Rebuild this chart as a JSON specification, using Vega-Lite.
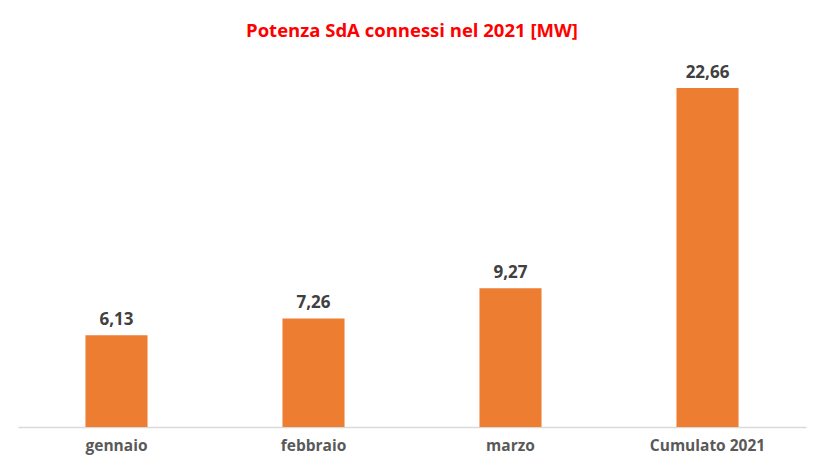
{
  "$schema": "https://vega.github.io/schema/vega-lite/v6.json",
  "width": 788,
  "height": 374,
  "autosize": {"type": "none"},
  "padding": {"left": 18, "top": 53, "right": 10, "bottom": 31},
  "background": "white",
  "config": {"view": {"stroke": null}, "font": "Open Sans"},
  "title": {
    "text": "Potenza SdA connessi nel 2021 [MW]",
    "color": "#FF0000",
    "fontSize": 18.5,
    "fontWeight": "bold",
    "font": "Open Sans",
    "anchor": "middle",
    "offset": 13
  },
  "data": {
    "values": [
      {"mese": "gennaio", "mw": 6.13, "label": "6,13"},
      {"mese": "febbraio", "mw": 7.26, "label": "7,26"},
      {"mese": "marzo", "mw": 9.27, "label": "9,27"},
      {"mese": "Cumulato 2021", "mw": 22.66, "label": "22,66"}
    ]
  },
  "encoding": {
    "x": {
      "field": "mese",
      "type": "nominal",
      "sort": null,
      "scale": {"paddingInner": 0.685, "paddingOuter": 0.3425},
      "axis": {
        "title": null,
        "labelAngle": 0,
        "ticks": false,
        "domainColor": "#D9D9D9",
        "domainWidth": 1.5,
        "labelColor": "#595959",
        "labelFontSize": 15.5,
        "labelFontWeight": "bold",
        "labelFont": "Open Sans",
        "labelPadding": 11
      }
    },
    "y": {
      "field": "mw",
      "type": "quantitative",
      "scale": {"domain": [0, 25]},
      "axis": null
    }
  },
  "layer": [
    {"mark": {"type": "bar", "color": "#ED7D31"}},
    {
      "mark": {"type": "text", "dy": -15, "color": "#404040", "fontSize": 17, "fontWeight": "bold", "font": "Open Sans"},
      "encoding": {"text": {"field": "label"}}
    }
  ]
}
